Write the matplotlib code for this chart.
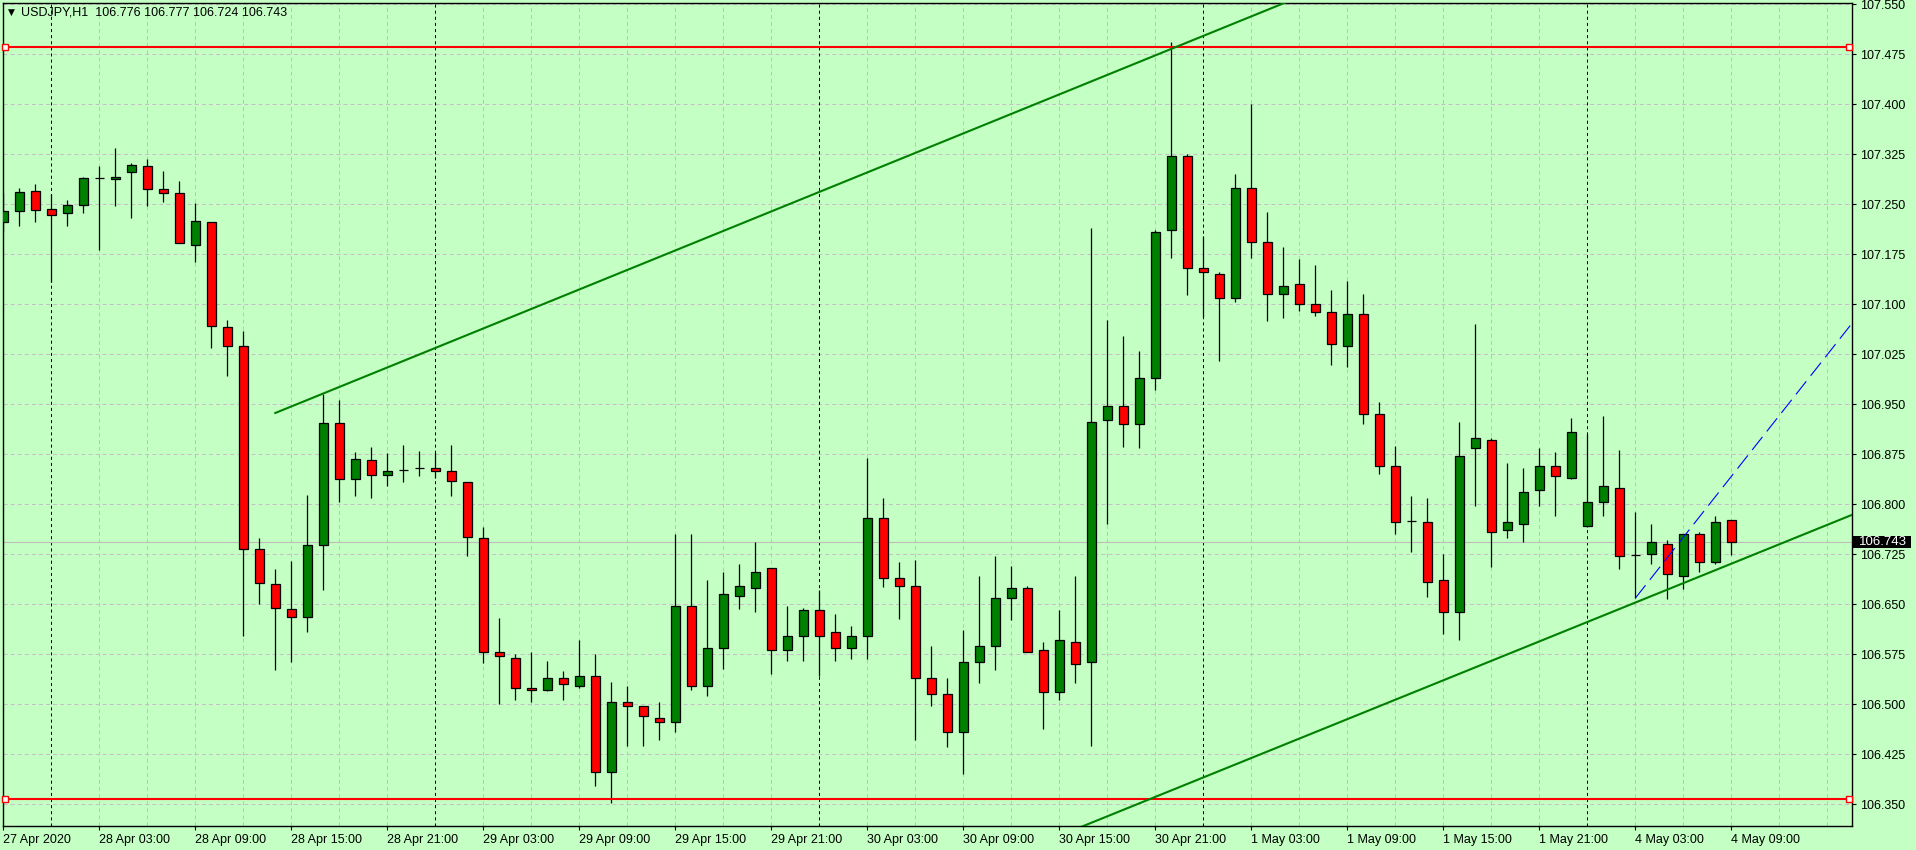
import numpy as np
import matplotlib
matplotlib.use('Agg')
import matplotlib.pyplot as plt
from matplotlib.patches import Rectangle
from matplotlib.transforms import blended_transform_factory

plt.rcParams['font.family'] = ['Liberation Sans', 'DejaVu Sans']
plt.rcParams['lines.scale_dashes'] = False

BG = '#C4FFC4'
GRID = '#C8BEC8'
BULL = '#008000'
BEAR = '#FF0000'

# ---- data (H1 bars, 27 Apr 21:00 .. 4 May 09:00) ----
symbol = 'USDJPY,H1'

opens = [107.224, 107.240, 107.270, 107.243, 107.237, 107.249, 107.290, 107.288, 107.298, 107.307,
         107.273, 107.267, 107.189, 107.223, 107.066, 107.037, 106.733, 106.680, 106.643, 106.631,
         106.739, 106.922, 106.838, 106.866, 106.844, 106.852, 106.854, 106.854, 106.850, 106.833,
         106.750, 106.579, 106.569, 106.525, 106.521, 106.540, 106.528, 106.542, 106.399, 106.504,
         106.497, 106.480, 106.474, 106.647, 106.527, 106.584, 106.663, 106.675, 106.704, 106.581,
         106.602, 106.642, 106.608, 106.585, 106.602, 106.779, 106.689, 106.677, 106.539, 106.515,
         106.459, 106.563, 106.587, 106.659, 106.674, 106.581, 106.518, 106.594, 106.563, 106.927,
         106.947, 106.921, 106.989, 107.211, 107.322, 107.155, 107.146, 107.109, 107.275, 107.194,
         107.116, 107.130, 107.100, 107.089, 107.038, 107.085, 106.935, 106.857, 106.775, 106.774,
         106.686, 106.639, 106.885, 106.897, 106.761, 106.771, 106.822, 106.857, 106.840, 106.767,
         106.804, 106.825, 106.724, 106.725, 106.741, 106.692, 106.756, 106.713, 106.776]
highs = [107.267, 107.275, 107.281, 107.265, 107.257, 107.291, 107.307, 107.335, 107.312, 107.318,
         107.300, 107.285, 107.252, 107.224, 107.076, 107.060, 106.750, 106.703, 106.715, 106.814,
         106.965, 106.957, 106.878, 106.886, 106.877, 106.889, 106.880, 106.878, 106.889, 106.834,
         106.766, 106.629, 106.575, 106.578, 106.565, 106.550, 106.596, 106.575, 106.533, 106.527,
         106.498, 106.504, 106.756, 106.755, 106.686, 106.699, 106.710, 106.744, 106.704, 106.647,
         106.645, 106.671, 106.635, 106.617, 106.870, 106.810, 106.713, 106.716, 106.588, 106.539,
         106.612, 106.692, 106.722, 106.708, 106.677, 106.594, 106.641, 106.693, 107.214, 107.076,
         107.052, 107.030, 107.211, 107.493, 107.325, 107.202, 107.149, 107.296, 107.400, 107.238,
         107.186, 107.168, 107.159, 107.121, 107.135, 107.115, 106.953, 106.887, 106.813, 106.809,
         106.726, 106.924, 107.071, 106.900, 106.862, 106.854, 106.885, 106.878, 106.929, 106.906,
         106.932, 106.881, 106.789, 106.770, 106.747, 106.756, 106.759, 106.782, 106.777]
lows = [107.209, 107.218, 107.224, 107.133, 107.218, 107.237, 107.182, 107.248, 107.230, 107.248,
        107.254, 107.192, 107.164, 107.035, 106.992, 106.603, 106.650, 106.551, 106.564, 106.609,
        106.672, 106.804, 106.813, 106.810, 106.828, 106.834, 106.842, 106.840, 106.812, 106.723,
        106.562, 106.501, 106.507, 106.504, 106.520, 106.507, 106.524, 106.378, 106.352, 106.438,
        106.438, 106.447, 106.459, 106.522, 106.513, 106.553, 106.643, 106.639, 106.546, 106.565,
        106.565, 106.542, 106.565, 106.568, 106.568, 106.676, 106.628, 106.447, 106.498, 106.436,
        106.396, 106.532, 106.552, 106.627, 106.578, 106.463, 106.507, 106.532, 106.438, 106.771,
        106.886, 106.885, 106.972, 107.170, 107.114, 107.081, 107.015, 107.104, 107.170, 107.075,
        107.080, 107.090, 107.083, 107.009, 107.006, 106.921, 106.846, 106.756, 106.729, 106.661,
        106.606, 106.597, 106.798, 106.706, 106.750, 106.744, 106.798, 106.782, 106.838, 106.766,
        106.782, 106.703, 106.659, 106.710, 106.658, 106.673, 106.698, 106.710, 106.724]
closes = [107.240, 107.268, 107.242, 107.234, 107.249, 107.289, 107.290, 107.291, 107.309, 107.273,
          107.267, 107.192, 107.225, 107.067, 107.037, 106.733, 106.682, 106.644, 106.631, 106.739,
          106.922, 106.838, 106.868, 106.844, 106.850, 106.852, 106.854, 106.850, 106.835, 106.751,
          106.578, 106.572, 106.524, 106.521, 106.540, 106.530, 106.542, 106.399, 106.504, 106.497,
          106.482, 106.474, 106.648, 106.527, 106.584, 106.665, 106.677, 106.699, 106.581, 106.602,
          106.642, 106.603, 106.584, 106.602, 106.780, 106.689, 106.677, 106.539, 106.515, 106.459,
          106.563, 106.587, 106.659, 106.674, 106.579, 106.519, 106.596, 106.561, 106.924, 106.948,
          106.921, 106.989, 107.209, 107.323, 107.154, 107.148, 107.109, 107.275, 107.194, 107.116,
          107.127, 107.100, 107.088, 107.040, 107.085, 106.935, 106.858, 106.774, 106.775, 106.684,
          106.638, 106.873, 106.899, 106.759, 106.773, 106.819, 106.858, 106.842, 106.909, 106.804,
          106.827, 106.723, 106.724, 106.744, 106.695, 106.756, 106.713, 106.774, 106.743]

tick_bars = list(range(0, 109, 6))
tick_labels = ['27 Apr 2020', '28 Apr 03:00', '28 Apr 09:00', '28 Apr 15:00', '28 Apr 21:00',
               '29 Apr 03:00', '29 Apr 09:00', '29 Apr 15:00', '29 Apr 21:00', '30 Apr 03:00',
               '30 Apr 09:00', '30 Apr 15:00', '30 Apr 21:00', '1 May 03:00', '1 May 09:00',
               '1 May 15:00', '1 May 21:00', '4 May 03:00', '4 May 09:00']
day_starts = [3, 27, 51, 75, 99]

price_ticks = [106.350, 106.425, 106.500, 106.575, 106.650, 106.725, 106.800, 106.875, 106.950,
               107.025, 107.100, 107.175, 107.250, 107.325, 107.400, 107.475, 107.550]

resistance = 107.486
support = 106.358
last_price = closes[-1]

# drawn objects: anchor points (bar index, price)
channel_upper_x = [17, 77.3]
channel_upper_y = [106.937, 107.525]
channel_lower_x = [93.5, 111.0]
channel_lower_y = [106.570, 106.740]
ray_x = [102, 111]
ray_y = [106.659, 106.933]

XLIM = (-0.05, 115.55)
YLIM = (106.3175, 107.5527)


def ray(xs, ys, x_from, x_to):
	k = (ys[1] - ys[0]) / (xs[1] - xs[0])
	return [x_from, x_to], [ys[0] + k * (x_from - xs[0]), ys[0] + k * (x_to - xs[0])]


fig = plt.figure(figsize=(19.16, 8.5), dpi=100, facecolor=BG)
ax = fig.add_axes([2.5 / 1916, 24 / 850, 1849.5 / 1916, 823.5 / 850])
ax.set_facecolor(BG)
ax.set_xlim(*XLIM)
ax.set_ylim(*YLIM)

# grid
for p in price_ticks:
	ax.axhline(p, color=GRID, lw=0.72, dashes=(2.9, 2.2), zorder=1)
for i in range(0, 116, 3):
	if i in day_starts:
		ax.axvline(i, color='black', lw=0.72, dashes=(2.2, 2.2), zorder=1)
	else:
		ax.axvline(i, color=GRID, lw=0.72, dashes=(2.9, 2.2), zorder=1)

ax.axhline(last_price, color='#BDBDBD', lw=0.8, zorder=1.5)

# candles
o = np.array(opens)
h = np.array(highs)
l = np.array(lows)
c = np.array(closes)
x = np.arange(len(o))
ax.vlines(x, l, h, color='black', lw=0.9, zorder=3)
colors = [BULL if cc >= oo else BEAR for oo, cc in zip(o, c)]
ax.bar(x, np.abs(c - o), 0.58, bottom=np.minimum(o, c), color=colors,
       edgecolor='black', linewidth=0.9, zorder=4)

# horizontal levels
trans = blended_transform_factory(ax.transAxes, ax.transData)
for lvl in (resistance, support):
	ax.axhline(lvl, color='#FF0000', lw=1.5, zorder=5)
	ax.plot([0.0015, 0.9985], [lvl, lvl], ls='none', marker='s', ms=4, mfc='white',
	        mec='#FF0000', mew=1.0, transform=trans, clip_on=False, zorder=6)

# channel + ray
xs, ys = ray(channel_upper_x, channel_upper_y, channel_upper_x[0], XLIM[1])
ax.plot(xs, ys, color=BULL, lw=1.5, zorder=5)
xs, ys = ray(channel_lower_x, channel_lower_y, channel_upper_x[0], XLIM[1])
ax.plot(xs, ys, color=BULL, lw=1.5, zorder=5)
xs, ys = ray(ray_x, ray_y, ray_x[0], XLIM[1])
ax.plot(xs, ys, color='#0000FF', lw=0.8, dashes=(12, 5), zorder=5)

# axes
for s in ax.spines.values():
	s.set_color('black')
	s.set_linewidth(1.0)
ax.yaxis.tick_right()
ax.set_yticks(price_ticks)
ax.set_yticklabels([f'{p:.3f}' for p in price_ticks])
ax.tick_params(axis='y', length=3, pad=3, labelsize=9, colors='black')
ax.set_xticks(tick_bars)
ax.set_xticklabels(tick_labels, ha='left')
ax.tick_params(axis='x', length=3, pad=3, labelsize=9, colors='black')

# last price tag
box_h = 12 * (YLIM[1] - YLIM[0]) / 823.5
ax.add_patch(Rectangle((1.0008, last_price - box_h / 2), 58 / 1849.5, box_h, transform=trans,
                       facecolor='black', edgecolor='none', clip_on=False, zorder=10))
ax.text(1 + 7 / 1849.5, last_price, f'{last_price:.3f}', transform=trans, color='white',
        fontsize=9.5, ha='left', va='center', zorder=11)

# header
fig.text(11 / 1916, 1 - 12.5 / 850, '\u25BC', family='DejaVu Sans', fontsize=6.5,
         ha='center', va='center')
fig.text(21 / 1916, 1 - 12.7 / 850,
         f'{symbol}  {opens[-1]:.3f} {highs[-1]:.3f} {lows[-1]:.3f} {closes[-1]:.3f}',
         fontsize=9, ha='left', va='center')

fig.savefig('out.png', dpi=100, facecolor=BG)
